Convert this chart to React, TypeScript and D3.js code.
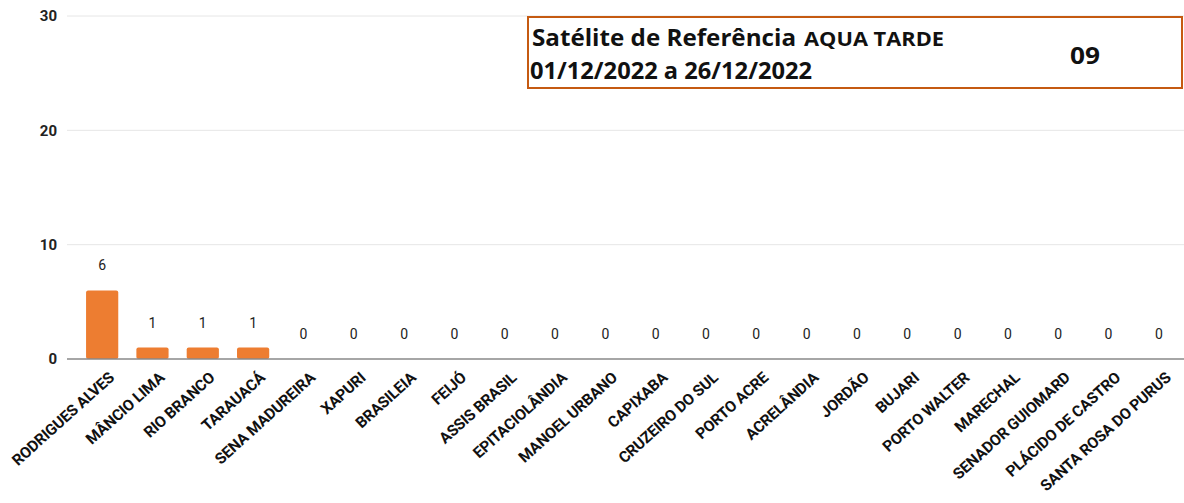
import React, { useEffect, useRef } from 'react'
import * as d3 from 'd3'

const cities = [
  'RODRIGUES ALVES', 'MÂNCIO LIMA', 'RIO BRANCO', 'TARAUACÁ', 'SENA MADUREIRA',
  'XAPURI', 'BRASILEIA', 'FEIJÓ', 'ASSIS BRASIL', 'EPITACIOLÂNDIA', 'MANOEL URBANO',
  'CAPIXABA', 'CRUZEIRO DO SUL', 'PORTO ACRE', 'ACRELÂNDIA', 'JORDÃO', 'BUJARI',
  'PORTO WALTER', 'MARECHAL', 'SENADOR GUIOMARD', 'PLÁCIDO DE CASTRO', 'SANTA ROSA DO PURUS',
]
const focos = [6, 1, 1, 1, 0, 0, 0, 0, 0, 0, 0, 0, 0, 0, 0, 0, 0, 0, 0, 0, 0, 0]
const yTicks = [0, 10, 20, 30]

const App = () => {
  const svgRef = useRef<SVGSVGElement>(null)

  useEffect(() => {
    const svg = d3.select(svgRef.current)
    svg.selectAll('*').remove()

    const width = 1184
    const height = 503
    const gridLeft = 67
    const plotLeft = 77
    const plotRight = 1184
    const y0 = 359

    const x = d3.scaleBand<string>()
      .domain(cities)
      .range([plotLeft, plotRight])
      .paddingInner(0.36)
      .paddingOuter(0.18)

    const y = d3.scaleLinear().domain([0, 30]).range([y0, 16])

    // gridlines + y labels
    const grid = svg.append('g')
    grid.selectAll('line')
      .data(yTicks.filter(d => d > 0))
      .join('line')
      .attr('x1', gridLeft).attr('x2', plotRight)
      .attr('y1', d => y(d)).attr('y2', d => y(d))
      .attr('stroke', '#e6e6e6')
      .attr('stroke-width', 1)

    grid.selectAll('text')
      .data(yTicks)
      .join('text')
      .attr('x', 57)
      .attr('y', d => y(d))
      .attr('dy', '0.35em')
      .attr('text-anchor', 'end')
      .style('font', 'bold 15px Roboto, sans-serif')
      .attr('fill', '#222')
      .text(d => d)

    // bars
    svg.append('g')
      .selectAll('rect')
      .data(focos)
      .join('rect')
      .attr('x', (d, i) => x(cities[i])!)
      .attr('width', x.bandwidth())
      .attr('y', d => y(d))
      .attr('height', d => y0 - y(d))
      .attr('rx', 2)
      .attr('fill', '#ED7D31')

    // value labels
    svg.append('g')
      .selectAll('text')
      .data(focos)
      .join('text')
      .attr('x', (d, i) => x(cities[i])! + x.bandwidth() / 2)
      .attr('y', d => y(d) - 20)
      .attr('text-anchor', 'middle')
      .style('font', '14px Roboto, sans-serif')
      .attr('fill', '#222')
      .text(d => d)

    // baseline
    svg.append('line')
      .attr('x1', gridLeft).attr('x2', plotRight)
      .attr('y1', y0).attr('y2', y0)
      .attr('stroke', '#888')
      .attr('stroke-width', 1.5)

    // category labels
    svg.append('g')
      .selectAll('text')
      .data(cities)
      .join('text')
      .attr('transform', d => `translate(${x(d)! + x.bandwidth() / 2 + 13},${y0 + 20}) rotate(-42)`)
      .attr('text-anchor', 'end')
      .style('font', 'bold 15.5px Roboto, sans-serif')
      .style('letter-spacing', '-0.2px')
      .attr('fill', '#111')
      .text(d => d)

    // reference box
    const box = svg.append('g')
    box.append('rect')
      .attr('x', 528).attr('y', 17)
      .attr('width', 654).attr('height', 71)
      .attr('fill', 'white')
      .attr('stroke', '#C55A11')
      .attr('stroke-width', 2)

    box.append('text')
      .attr('x', 532).attr('y', 46)
      .style('font', 'bold 24px "Open Sans", sans-serif')
      .attr('fill', '#111')
      .attr('textLength', 264)
      .attr('lengthAdjust', 'spacingAndGlyphs')
      .text('Satélite de Referência')

    box.append('text')
      .attr('x', 804).attr('y', 46)
      .style('font', 'bold 19px "Open Sans", sans-serif')
      .attr('fill', '#111')
      .attr('textLength', 140)
      .attr('lengthAdjust', 'spacingAndGlyphs')
      .text('AQUA TARDE')

    box.append('text')
      .attr('x', 530).attr('y', 79)
      .style('font', 'bold 23px "Open Sans", sans-serif')
      .attr('fill', '#111')
      .attr('textLength', 282)
      .attr('lengthAdjust', 'spacingAndGlyphs')
      .text('01/12/2022 a 26/12/2022')

    box.append('text')
      .attr('x', 1085).attr('y', 64)
      .attr('text-anchor', 'middle')
      .style('font', 'bold 23px "Open Sans", sans-serif')
      .attr('fill', '#111')
      .attr('textLength', 30)
      .attr('lengthAdjust', 'spacingAndGlyphs')
      .text('09')

    svg.attr('width', width).attr('height', height)
  }, [])

  return (
    <svg ref={svgRef} style={{ position: 'absolute', left: 0, top: 0, display: 'block', background: 'white' }} />
  )
}

export default App
